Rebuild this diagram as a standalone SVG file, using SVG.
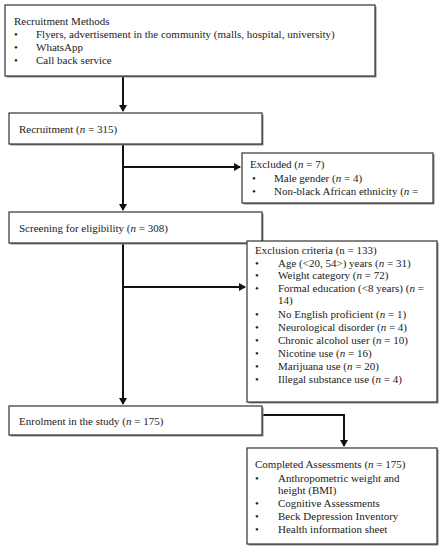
<svg xmlns="http://www.w3.org/2000/svg" width="443" height="550" viewBox="0 0 443 550">
<style>
.box{fill:#fff;stroke:#333;stroke-width:1.2}
.sh{fill:#888}
text{font-family:"Liberation Serif","Times New Roman",serif;font-size:11px;fill:#222}
.ln{stroke:#111;stroke-width:2;fill:none}
</style>
<defs>
<marker id="ah" markerWidth="8" markerHeight="8" refX="6" refY="4" orient="auto" markerUnits="userSpaceOnUse">
<path d="M0,0 L7,4 L0,8 z" fill="#111"/>
</marker>
</defs>
<rect width="443" height="550" fill="#fff"/>
<g id="connectors">
<line class="ln" x1="123" y1="76" x2="123" y2="111" marker-end="url(#ah)"/>
<line class="ln" x1="123" y1="144" x2="123" y2="210" marker-end="url(#ah)"/>
<line class="ln" x1="123" y1="167" x2="240" y2="167" marker-end="url(#ah)"/>
<line class="ln" x1="123" y1="243" x2="123" y2="404" marker-end="url(#ah)"/>
<line class="ln" x1="123" y1="287" x2="245" y2="287" marker-end="url(#ah)"/>
<polyline class="ln" points="262,415 344,415 344,446" marker-end="url(#ah)"/>
</g>
<g id="recruitment-methods">
<rect class="sh" x="6.5" y="6.5" width="370" height="71"/>
<rect class="box" x="5" y="5" width="370" height="71"/>
<text x="14" y="25">Recruitment Methods</text>
<text x="14" y="38">•</text><text x="36" y="38">Flyers, advertisement in the community (malls, hospital, university)</text>
<text x="14" y="51">•</text><text x="36" y="51">WhatsApp</text>
<text x="14" y="64">•</text><text x="36" y="64">Call back service</text>
</g>
<g id="recruitment">
<rect class="sh" x="10.5" y="114.5" width="253" height="31"/>
<rect class="box" x="9" y="113" width="253" height="31"/>
<text x="19" y="133">Recruitment (<tspan font-style="italic">n</tspan> = 315)</text>
</g>
<g id="excluded">
<rect class="sh" x="243.5" y="154.5" width="191" height="50"/>
<rect class="box" x="242" y="153" width="191" height="50"/>
<text x="250" y="168">Excluded (<tspan font-style="italic">n</tspan> = 7)</text>
<text x="252" y="182">•</text><text x="274" y="182">Male gender (<tspan font-style="italic">n</tspan> = 4)</text>
<text x="252" y="195">•</text><text x="274" y="195">Non-black African ethnicity (<tspan font-style="italic">n</tspan> =</text>
</g>
<g id="screening">
<rect class="sh" x="10.5" y="213.5" width="253" height="31"/>
<rect class="box" x="9" y="212" width="253" height="31"/>
<text x="19" y="232">Screening for eligibility (<tspan font-style="italic">n</tspan> = 308)</text>
</g>
<g id="exclusion-criteria">
<rect class="sh" x="248.5" y="242.5" width="190" height="161"/>
<rect class="box" x="247" y="241" width="190" height="161"/>
<text x="255" y="254">Exclusion criteria (n = 133)</text>
<text x="255" y="267">•</text><text x="278" y="267">Age (&lt;20, 54&gt;) years (<tspan font-style="italic">n</tspan> = 31)</text>
<text x="255" y="279">•</text><text x="278" y="279">Weight category (<tspan font-style="italic">n</tspan> = 72)</text>
<text x="255" y="292">•</text><text x="278" y="292">Formal education (&lt;8 years) (<tspan font-style="italic">n</tspan> =</text>
<text x="278" y="304">14)</text>
<text x="255" y="318">•</text><text x="278" y="318">No English proficient (<tspan font-style="italic">n</tspan> = 1)</text>
<text x="255" y="331">•</text><text x="278" y="331">Neurological disorder (<tspan font-style="italic">n</tspan> = 4)</text>
<text x="255" y="344">•</text><text x="278" y="344">Chronic alcohol user (<tspan font-style="italic">n</tspan> = 10)</text>
<text x="255" y="357">•</text><text x="278" y="357">Nicotine use (<tspan font-style="italic">n</tspan> = 16)</text>
<text x="255" y="370">•</text><text x="278" y="370">Marijuana use (<tspan font-style="italic">n</tspan> = 20)</text>
<text x="255" y="383">•</text><text x="278" y="383">Illegal substance use (<tspan font-style="italic">n</tspan> = 4)</text>
</g>
<g id="enrolment">
<rect class="sh" x="10.5" y="407.5" width="253" height="29"/>
<rect class="box" x="9" y="406" width="253" height="29"/>
<text x="19" y="425">Enrolment in the study (<tspan font-style="italic">n</tspan> = 175)</text>
</g>
<g id="completed-assessments">
<rect class="sh" x="248.5" y="449.5" width="190" height="96"/>
<rect class="box" x="247" y="448" width="190" height="96"/>
<text x="255" y="468">Completed Assessments (<tspan font-style="italic">n</tspan> = 175)</text>
<text x="255" y="482">•</text><text x="278" y="482">Anthropometric weight and</text>
<text x="278" y="494">height (BMI)</text>
<text x="255" y="507">•</text><text x="278" y="507">Cognitive Assessments</text>
<text x="255" y="520">•</text><text x="278" y="520">Beck Depression Inventory</text>
<text x="255" y="533">•</text><text x="278" y="533">Health information sheet</text>
</g>
</svg>
